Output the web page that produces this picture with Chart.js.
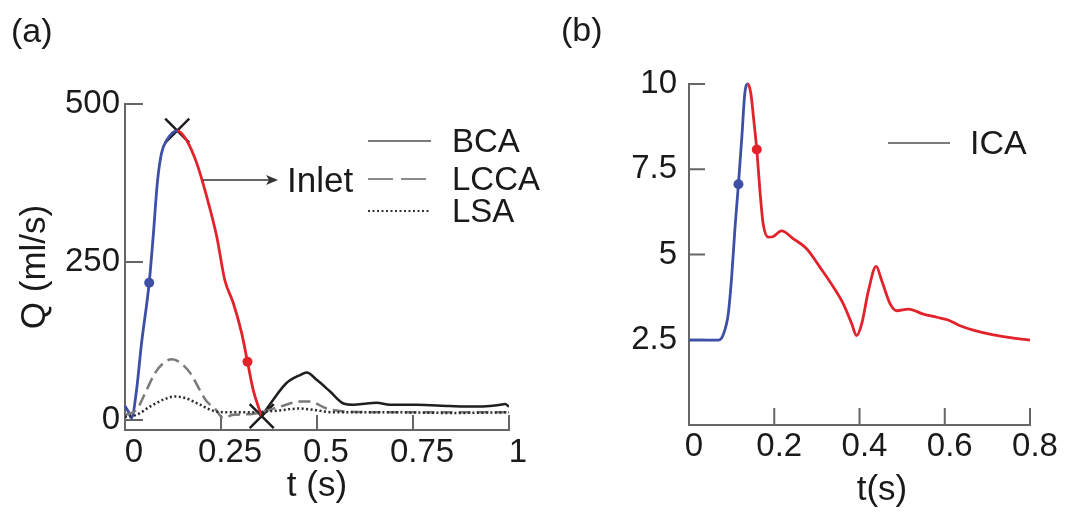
<!DOCTYPE html>
<html lang="en">
<head>
<meta charset="UTF-8">
<title>Flow rate waveforms</title>
<script src="https://cdn.jsdelivr.net/npm/chart.js"></script>
<style>
    body { margin: 0; background: #fff; }
    .panel { position: absolute; top: 0; }
    #panelA { left: 0; }
    #panelB { left: 540px; }
</style>
</head>
<body>
<div class="panel" id="panelA"><canvas id="chartA" width="540" height="516"></canvas></div>
<div class="panel" id="panelB"><canvas id="chartB" width="529" height="516"></canvas></div>
<script>
// ---- panel (a): flow rates at the aortic arch ----
const inletT = [0, 0.008, 0.017, 0.03, 0.043, 0.063, 0.074, 0.084, 0.095, 0.109, 0.136, 0.16, 0.187, 0.213, 0.239, 0.26, 0.282, 0.304, 0.319, 0.334, 0.35, 0.356];
const inletQ = [22, 14, 3, 47, 121, 217, 295, 374, 422, 443, 458, 443, 406, 353, 290, 221, 185, 137, 92, 47, 16, 6];

const bcaT = [0.356, 0.386, 0.42, 0.456, 0.473, 0.5, 0.534, 0.569, 0.595, 0.63, 0.655, 0.69, 0.76, 0.846, 0.916, 0.95, 0.977, 0.99, 1.0];
const bcaQ = [6, 32, 58, 71, 75, 63, 45, 26, 24, 26, 27, 24, 24, 22, 21, 22, 24, 25, 21];

const lccaT = [0, 0.03, 0.056, 0.078, 0.1, 0.122, 0.143, 0.17, 0.195, 0.213, 0.234, 0.256, 0.282, 0.326, 0.36, 0.404, 0.456, 0.482, 0.525, 0.586, 0.7, 0.85, 1.0];
const lccaQ = [8, 16, 47, 74, 90, 96, 91, 74, 47, 29, 18, 3, 8, 9, 13, 21, 29, 29, 18, 13, 12, 12, 12];

const lsaT = [0, 0.03, 0.065, 0.1, 0.13, 0.16, 0.195, 0.239, 0.282, 0.326, 0.386, 0.456, 0.49, 0.543, 0.7, 0.85, 1.0];
const lsaQ = [5, 8, 21, 32, 37, 34, 24, 13, 12, 12, 14, 18, 16, 12, 12, 11, 12];

const dotT_A = [0.063, 0.319];
const dotQ_A = [217, 92];
const crossT = [0.136, 0.356];
const crossQ = [458, 6];

const xTicksA = [0, 0.25, 0.5, 0.75, 1];
const xTickLabelsA = ['0', '0.25', '0.5', '0.75', '1'];
const yTicksA = [0, 250, 500];
const yTickLabelsA = ['0', '250', '500'];

// ---- panel (b): ICA flow rate ----
const icaT = [0, 0.069, 0.081, 0.092, 0.1, 0.108, 0.116, 0.124, 0.131, 0.138, 0.145, 0.152, 0.159, 0.167, 0.174, 0.186, 0.198, 0.217, 0.245, 0.276, 0.307, 0.339, 0.362, 0.382, 0.393, 0.405, 0.421, 0.439, 0.452, 0.472, 0.487, 0.515, 0.55, 0.581, 0.608, 0.636, 0.667, 0.714, 0.761, 0.8];
const icaQ = [2.49, 2.49, 2.67, 3.25, 4.33, 5.8, 7.06, 8.45, 9.73, 10.0, 9.73, 8.94, 8.08, 6.78, 5.9, 5.51, 5.53, 5.69, 5.46, 5.17, 4.63, 4.04, 3.55, 2.96, 2.62, 2.96, 3.94, 4.65, 4.24, 3.55, 3.35, 3.4, 3.25, 3.16, 3.08, 2.91, 2.78, 2.64, 2.55, 2.49];

const dotT_B = [0.116, 0.159];
const dotQ_B = [7.06, 8.08];

const xTicksB = [0, 0.2, 0.4, 0.6, 0.8];
const xTickLabelsB = ['0', '0.2', '0.4', '0.6', '0.8'];
const yTicksB = [2.5, 5, 7.5, 10];
const yTickLabelsB = ['2.5', '5', '7.5', '10'];

const BLUE = '#3e4fa6';
const RED = '#e2232c';
const AXIS = '#666';
const TEXT = '#1a1a1a';
const FONT = "'Liberation Sans', Arial, sans-serif";

const zip = (xs, ys) => xs.map((x, i) => ({ x: x, y: ys[i] }));
const peakOf = (xs, ys) => xs[ys.indexOf(Math.max(...ys))];

// small tick marks drawn on the inside of the axes
const innerTicks = {
    id: 'innerTicks',
    beforeDatasetsDraw(chart, args, opts) {
        const { ctx, chartArea } = chart;
        const xs = chart.scales.x, ys = chart.scales.y;
        ctx.save();
        ctx.strokeStyle = AXIS;
        ctx.lineWidth = 2;
        ctx.beginPath();
        xs.ticks.forEach(t => {
            if (t.value === xs.min) return;
            const px = xs.getPixelForValue(t.value);
            ctx.moveTo(px, chartArea.bottom);
            ctx.lineTo(px, chartArea.bottom - opts.xLen);
        });
        ys.ticks.forEach(t => {
            const py = ys.getPixelForValue(t.value);
            ctx.moveTo(chartArea.left, py);
            ctx.lineTo(chartArea.left + opts.yLen, py);
        });
        ctx.stroke();
        ctx.restore();
    }
};

// panel letter, hand placed legend, arrow and free text
const decor = {
    id: 'decor',
    afterDraw(chart, args, opts) {
        const ctx = chart.ctx;
        ctx.save();
        ctx.fillStyle = TEXT;
        ctx.textBaseline = 'middle';
        (opts.texts || []).forEach(t => {
            ctx.font = t.size + 'px ' + FONT;
            ctx.textAlign = t.align || 'left';
            ctx.fillText(t.text, t.x, t.y);
        });
        (opts.legend || []).forEach(item => {
            const ds = chart.data.datasets[item.index];
            ctx.strokeStyle = item.color;
            ctx.lineWidth = item.width;
            ctx.setLineDash(item.dash);
            ctx.beginPath();
            ctx.moveTo(item.x, item.y);
            ctx.lineTo(item.x + item.len, item.y);
            ctx.stroke();
            ctx.setLineDash([]);
            ctx.font = item.size + 'px ' + FONT;
            ctx.textAlign = 'left';
            ctx.fillText(ds.label, item.x + item.len + item.gap, item.y + 2);
        });
        if (opts.arrow) {
            const a = opts.arrow;
            ctx.strokeStyle = '#333';
            ctx.fillStyle = '#333';
            ctx.lineWidth = 1.5;
            ctx.beginPath();
            ctx.moveTo(a.x0, a.y);
            ctx.lineTo(a.x1 - 8, a.y);
            ctx.stroke();
            ctx.beginPath();
            ctx.moveTo(a.x1, a.y);
            ctx.lineTo(a.x1 - 12, a.y - 5);
            ctx.lineTo(a.x1 - 9, a.y);
            ctx.lineTo(a.x1 - 12, a.y + 5);
            ctx.closePath();
            ctx.fill();
        }
        ctx.restore();
    }
};

function axisX(ticks, labels, min, max, offset, pad, height, title) {
    return {
        type: 'linear', min: min, max: max,
        afterBuildTicks: s => { s.ticks = ticks.map(v => ({ value: v })); },
        afterFit: s => { s.height = height; },
        ticks: {
            callback: (v, i) => labels[i], autoSkip: false, maxRotation: 0,
            font: { family: FONT, size: 33 }, color: TEXT, padding: pad, labelOffset: offset
        },
        grid: { display: false, drawTicks: false },
        border: { color: AXIS, width: 2 },
        title: title
    };
}

function axisY(ticks, labels, min, max, pad, width, title) {
    return {
        type: 'linear', min: min, max: max,
        afterBuildTicks: s => { s.ticks = ticks.map(v => ({ value: v })); },
        afterFit: s => { s.width = width; },
        ticks: {
            callback: (v, i) => labels[i], autoSkip: false,
            font: { family: FONT, size: 33 }, color: TEXT, padding: pad
        },
        grid: { display: false, drawTicks: false },
        border: { color: AXIS, width: 2 },
        title: title
    };
}

const inletPeak = peakOf(inletT, inletQ);
const icaPeak = peakOf(icaT, icaQ);

new Chart(document.getElementById('chartA'), {
    type: 'line',
    data: {
        datasets: [
            {
                label: 'LSA', data: zip(lsaT, lsaQ),
                borderColor: '#2b2b2b', borderWidth: 2.5, borderDash: [2, 2.5],
                pointRadius: 0, cubicInterpolationMode: 'monotone'
            },
            {
                label: 'LCCA', data: zip(lccaT, lccaQ),
                borderColor: '#7a7a7a', borderWidth: 2.5, borderDash: [12, 6],
                pointRadius: 0, cubicInterpolationMode: 'monotone'
            },
            {
                label: 'BCA', data: zip(bcaT, bcaQ),
                borderColor: '#1e1e1e', borderWidth: 2.5,
                pointRadius: 0, cubicInterpolationMode: 'monotone'
            },
            {
                label: 'Inlet', data: zip(inletT, inletQ),
                borderColor: BLUE, borderWidth: 2.8, clip: 6,
                segment: { borderColor: c => c.p0.parsed.x < inletPeak ? BLUE : RED },
                pointRadius: 0, cubicInterpolationMode: 'monotone'
            },
            {
                label: 'dots', data: zip(dotT_A, dotQ_A), showLine: false,
                pointRadius: 5, pointBorderWidth: 0,
                pointBackgroundColor: [BLUE, RED]
            },
            {
                label: 'peaks', data: zip(crossT, crossQ), showLine: false, clip: false,
                pointStyle: 'crossRot', pointRadius: 17, pointBorderWidth: 2.5,
                pointBorderColor: '#1c1c1c'
            }
        ]
    },
    options: {
        responsive: false,
        animation: false,
        layout: { padding: { left: 0, top: 104, right: 31, bottom: 0 } },
        scales: {
            x: axisX(xTicksA, xTickLabelsA, 0, 1, 9, 3, 86,
                { display: true, text: 't (s)', color: TEXT, font: { family: FONT, size: 35 }, padding: { top: 0, bottom: 9 } }),
            y: axisY(yTicksA, yTickLabelsA, -16, 500, 5, 125,
                { display: true, text: 'Q (ml/s)', color: TEXT, font: { family: FONT, size: 35 }, padding: { top: 14, bottom: 0 } })
        },
        plugins: {
            legend: { display: false },
            tooltip: { enabled: false },
            innerTicks: { xLen: 15, yLen: 18 },
            decor: {
                texts: [
                    { text: '(a)', x: 11, y: 33, size: 34 },
                    { text: 'Inlet', x: 287, y: 182, size: 35 }
                ],
                legend: [
                    { index: 2, x: 368, y: 141, len: 63, gap: 21, color: '#7c7c7c', width: 2, dash: [], size: 33 },
                    { index: 1, x: 368, y: 179, len: 63, gap: 21, color: '#8a8a8a', width: 2, dash: [25, 8], size: 33 },
                    { index: 0, x: 368, y: 211, len: 63, gap: 21, color: '#333', width: 2, dash: [2, 2.5], size: 33 }
                ],
                arrow: { x0: 203, x1: 278, y: 180 }
            }
        }
    },
    plugins: [innerTicks, decor]
});

new Chart(document.getElementById('chartB'), {
    type: 'line',
    data: {
        datasets: [
            {
                label: 'ICA', data: zip(icaT, icaQ),
                borderColor: BLUE, borderWidth: 2.8, clip: 6,
                segment: { borderColor: c => c.p0.parsed.x < icaPeak ? BLUE : RED },
                pointRadius: 0, cubicInterpolationMode: 'monotone'
            },
            {
                label: 'dots', data: zip(dotT_B, dotQ_B), showLine: false,
                pointRadius: 5, pointBorderWidth: 0,
                pointBackgroundColor: [BLUE, RED]
            }
        ]
    },
    options: {
        responsive: false,
        animation: false,
        layout: { padding: { left: 0, top: 84, right: 39, bottom: 0 } },
        scales: {
            x: axisX(xTicksB, xTickLabelsB, 0, 0.8, 5, 2, 91, { display: false }),
            y: axisY(yTicksB, yTickLabelsB, 0, 10, 12, 149, { display: false })
        },
        plugins: {
            legend: { display: false },
            tooltip: { enabled: false },
            innerTicks: { xLen: 17, yLen: 16 },
            decor: {
                texts: [
                    { text: '(b)', x: 21, y: 32, size: 34 },
                    { text: 't(s)', x: 342, y: 490, size: 35, align: 'center' }
                ],
                legend: [
                    { index: 0, x: 348, y: 143, len: 62, gap: 20, color: '#7c7c7c', width: 2, dash: [], size: 34 }
                ]
            }
        }
    },
    plugins: [innerTicks, decor]
});
</script>
</body>
</html>
